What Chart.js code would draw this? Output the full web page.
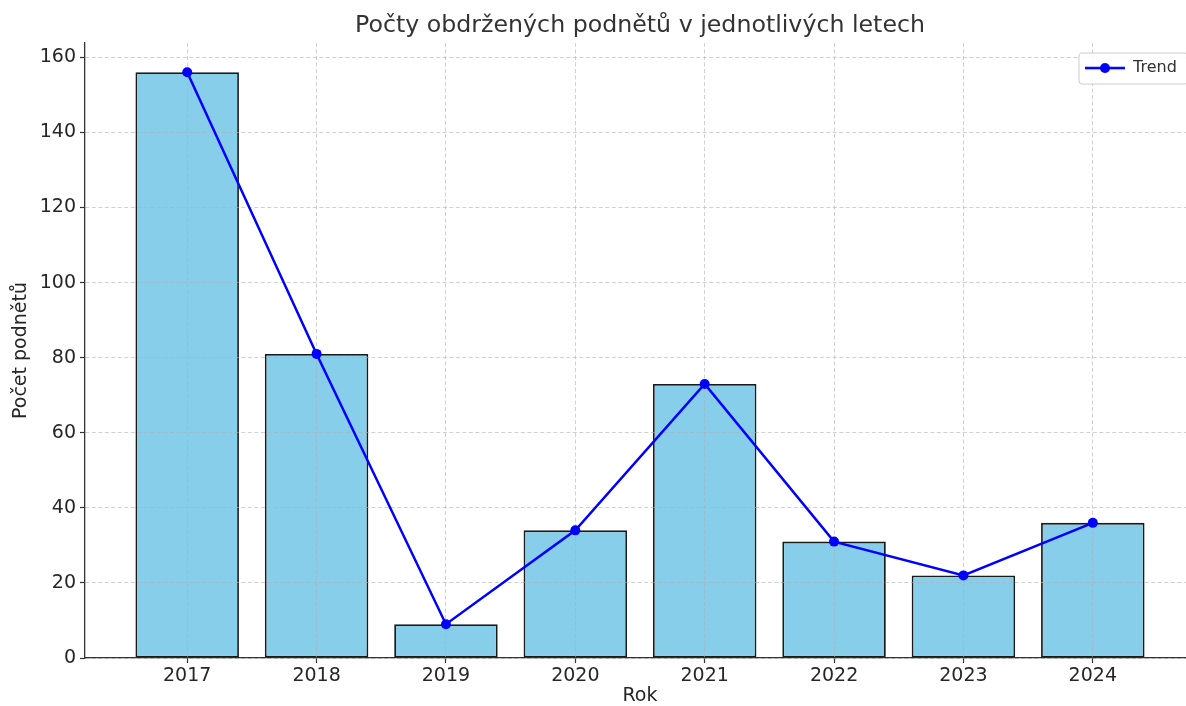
<!DOCTYPE html>
<html>
<head>
<meta charset="utf-8">
<script src="https://cdn.jsdelivr.net/npm/chart.js@4"></script>
<style>
  html, body { margin: 0; padding: 0; background: #fff; overflow: hidden; }
</style>
</head>
<body>
<canvas id="myChart" width="1200" height="706"></canvas>
<script>
const years = ['2017', '2018', '2019', '2020', '2021', '2022', '2023', '2024'];
const counts = [156, 81, 9, 34, 73, 31, 22, 36];
const trend = [156, 81, 9, 34, 73, 31, 22, 36];
const yTicks = [0, 20, 40, 60, 80, 100, 120, 140, 160];

Chart.defaults.font.family = "'DejaVu Sans', sans-serif";
Chart.defaults.color = '#262626';

// legend handle: line with a dot, like matplotlib
var icon = document.createElement('canvas');
icon.width = 40;
icon.height = 12;
(function() {
    var c = icon.getContext('2d');
    c.strokeStyle = '#0000ff';
    c.lineWidth = 2.5;
    c.beginPath();
    c.moveTo(0, 6);
    c.lineTo(40, 6);
    c.stroke();
    c.fillStyle = '#0000ff';
    c.beginPath();
    c.arc(20, 6, 5, 0, Math.PI * 2);
    c.fill();
})();

// legend in the upper right corner of the plot, inside a white box
const legendBox = {
    id: 'legendBox',
    afterLayout(chart) {
        const lg = chart.legend;
        if (!lg || !lg.legendHitBoxes || !lg.legendHitBoxes.length) return;
        const pad = lg.options.labels.padding;
        const area = chart.chartArea;
        lg.left = area.right - 110 - pad;
        lg.top = area.top + 17 - pad;
        lg.right = area.right;
        lg.bottom = lg.top + 60;
    },
    afterDatasetsDraw(chart) {
        const lg = chart.legend;
        if (!lg || !lg.legendHitBoxes || !lg.legendHitBoxes.length) return;
        const ctx = chart.ctx;
        const hb = lg.legendHitBoxes[0];
        const x = hb.left - 6, y = hb.top - 7;
        const w = chart.chartArea.right - 7 - x, h = hb.height + 15;
        ctx.save();
        ctx.fillStyle = 'rgba(255,255,255,0.9)';
        ctx.strokeStyle = '#cccccc';
        ctx.lineWidth = 1;
        ctx.beginPath();
        ctx.roundRect(x, y, w, h, 3);
        ctx.fill();
        ctx.stroke();
        ctx.restore();
        lg.draw();
    }
};

// grid shows faintly through the bars, below the trend line
const gridOverBars = {
    id: 'gridOverBars',
    afterDatasetDraw(chart, args) {
        if (args.meta.type !== 'bar') return;
        const ctx = chart.ctx;
        ctx.save();
        ctx.beginPath();
        args.meta.data.forEach(b => {
            const p = b.getProps(['x', 'y', 'base', 'width'], true);
            ctx.rect(p.x - p.width / 2, p.y, p.width, p.base - p.y);
        });
        ctx.clip();
        chart.scales.x.drawGrid(chart.chartArea);
        chart.scales.y.drawGrid(chart.chartArea);
        ctx.restore();
    }
};

const gridStyle = {
    color: 'rgba(176,176,176,0.6)',
    lineWidth: 1,
    tickLength: 5,
    tickColor: '#333333',
    tickWidth: 1.2,
    offset: false
};

(function() {
    var ctx = document.querySelector('#myChart');
    new Chart(ctx, {
        type: 'bar',
        data: {
            datasets: [{
                type: 'bar',
                label: 'Počet',
                data: counts.map((v, i) => ({ x: i, y: v })),
                backgroundColor: '#87ceeb',
                borderColor: '#1a1a1a',
                borderWidth: 1.8,
                borderSkipped: false,
                categoryPercentage: 0.8,
                barPercentage: 1,
                order: 2
            }, {
                type: 'line',
                label: 'Trend',
                data: trend.map((v, i) => ({ x: i, y: v })),
                borderColor: '#0000ff',
                backgroundColor: '#0000ff',
                borderWidth: 2.5,
                pointRadius: 5,
                pointBackgroundColor: '#0000ff',
                pointBorderWidth: 0,
                tension: 0,
                order: 1
            }]
        },
        options: {
            responsive: false,
            animation: false,
            layout: { padding: { left: 0, right: 3, top: 0, bottom: 0 } },
            plugins: {
                title: {
                    display: true,
                    fullSize: false,
                    text: 'Počty obdržených podnětů v jednotlivých letech',
                    font: { size: 23.7, weight: 'normal' },
                    color: '#333333',
                    padding: { top: 12, bottom: 2.6 }
                },
                legend: {
                    position: 'chartArea',
                    align: 'start',
                    labels: {
                        usePointStyle: true,
                        pointStyleWidth: 40,
                        padding: 8,
                        font: { size: 16 },
                        color: '#333333',
                        filter: item => item.text === 'Trend',
                        generateLabels: chart => Chart.defaults.plugins.legend.labels.generateLabels(chart)
                            .map(l => Object.assign(l, { pointStyle: icon }))
                    }
                },
                tooltip: { enabled: false }
            },
            scales: {
                x: {
                    type: 'linear',
                    offset: false,
                    min: -0.79,
                    max: years.length - 1 + 0.79,
                    afterFit: s => { s.height = 48; },
                    grid: gridStyle,
                    border: { display: true, color: '#333333', width: 1.3, dash: [4, 2.5] },
                    ticks: {
                        stepSize: 1,
                        includeBounds: false,
                        padding: 2,
                        font: { size: 19 },
                        callback: v => years[v] !== undefined ? years[v] : ''
                    },
                    title: {
                        display: true,
                        text: 'Rok',
                        font: { size: 19, lineHeight: 1 },
                        padding: { top: 0, bottom: 0 }
                    }
                },
                y: {
                    min: 0,
                    max: Math.max(...counts) * 1.05,
                    afterFit: s => { s.width = 85; },
                    afterBuildTicks: s => { s.ticks = yTicks.map(v => ({ value: v })); },
                    grid: gridStyle,
                    border: { display: true, color: '#333333', width: 1.3, dash: [4, 2.5] },
                    ticks: {
                        padding: 4,
                        font: { size: 19 }
                    },
                    title: {
                        display: true,
                        text: 'Počet podnětů',
                        font: { size: 19, lineHeight: 1.2 },
                        padding: { top: 10, bottom: 0 }
                    }
                }
            }
        },
        plugins: [legendBox, gridOverBars]
    });
})();
</script>
</body>
</html>
